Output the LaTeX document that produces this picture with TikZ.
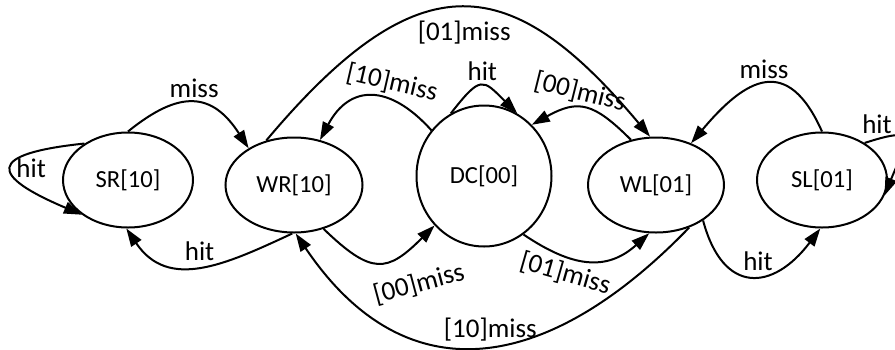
\documentclass[tikz,border=0pt]{standalone}
\usepackage{fontspec}
\setmainfont{Carlito}
\usetikzlibrary{arrows.meta,shapes.geometric}

\begin{document}
\begin{tikzpicture}[x=0.5pt, y=0.5pt, line width=1pt,
  state/.style={draw, ellipse, inner sep=0pt, minimum width=65pt, minimum height=47.5pt, font=\fontsize{12.3}{14}\selectfont},
  edge/.style={-{Triangle[length=9pt,width=6pt]}},
  lbl/.style={inner sep=2pt, font=\fontsize{13.5}{16}\selectfont}]
\useasboundingbox (0,0) rectangle (895,-349);
\clip (0,0) rectangle (895,-349);

\node[state] (sr) at (128,-180) {SR[10]};
\node[state, minimum width=68.5pt] (wr) at (294,-185) {WR[10]};
\node[state, minimum width=67.5pt, minimum height=70.5pt] (dc) at (484,-176) {DC[00]};
\node[state, minimum width=68pt] (wl) at (656,-185) {WL[01]};
\node[state] (sl) at (822,-180) {SL[01]};

\draw[edge] (sr.140) .. controls +(186:100) and +(157:100) .. (sr.217) node[lbl, pos=0.5, right] (hit1) {hit};
\draw[edge] (sr.90) .. controls +(39:67) and +(123:67) .. (wr.141) node[lbl, pos=0.5, above] (miss1) {miss};
\draw[edge] (wr.268) .. controls +(205:75) and +(304:75) .. (sr.268) node[lbl, pos=0.5, above] (hit2) {hit};
\draw[edge] (wr.304) .. controls +(316:67) and +(225:67) .. (dc.225) node[lbl, rotate=15, pos=0.8, below=10pt] (miss2) {[00]miss};
\draw[edge] (dc.304) .. controls +(326:58) and +(222:58) .. (wl.262) node[lbl, rotate=-16, pos=0.35, below] (miss3) {[01]miss};
\draw[edge] (wl.308) .. controls +(226:200) and +(304:200) .. (wr.272) node[lbl, pos=0.48, above] (miss4) {[10]miss};
\draw[edge] (wr.122) .. controls +(50:240) and +(130:215) .. (wl.97) node[lbl, pos=0.5, below=4pt] (miss5) {[01]miss};
\draw[edge] (dc.139) .. controls +(132:63) and +(62:63) .. (wr.60) node[lbl, rotate=-13, pos=0.35, above] (miss6) {[10]miss};
\draw[edge] (dc.118) .. controls +(52:49) and +(135:49) .. (dc.62) node[lbl, pos=0.5, above] (hit3) {hit};
\draw[edge] (wl.119) .. controls +(135:53) and +(29:53) .. (dc.47) node[lbl, rotate=-14, pos=0.6, above] (miss7) {[00]miss};
\draw[edge] (sl.90) .. controls +(114:85) and +(50:85) .. (wl.50) node[lbl, pos=0.5, above] (miss8) {miss};
\draw[edge] (wl.323) .. controls +(285:78) and +(233:78) .. (sl.268) node[lbl, pos=0.55, above] (hit4) {hit};
\draw[edge] (sl.41) .. controls +(18:60) and +(68:60) .. (sl.346) node[lbl, pos=0.08, above] (hit5) {hit};
\end{tikzpicture}
\end{document}
